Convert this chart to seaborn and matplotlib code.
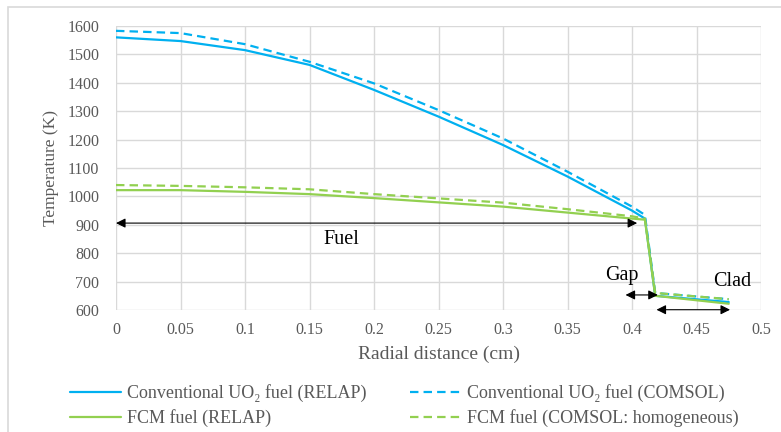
import matplotlib
matplotlib.use("Agg")
import matplotlib.pyplot as plt
import seaborn as sns
import pandas as pd
from matplotlib.patches import Rectangle

# ---- data ----
r_uo2_relap = [0, 0.05, 0.1, 0.15, 0.2, 0.25, 0.3, 0.35, 0.4, 0.41, 0.418, 0.475]
T_uo2_relap = [1560, 1547, 1515, 1463, 1375, 1281, 1181, 1070, 950, 922, 650, 628]
r_uo2_comsol = [0, 0.05, 0.1, 0.15, 0.2, 0.25, 0.3, 0.35, 0.4, 0.41, 0.418, 0.475]
T_uo2_comsol = [1583, 1575, 1536, 1474, 1398, 1304, 1204, 1087, 964, 935, 660, 638]
r_fcm_relap = [0, 0.05, 0.1, 0.15, 0.2, 0.25, 0.3, 0.35, 0.4, 0.41, 0.418, 0.475]
T_fcm_relap = [1022, 1022, 1016, 1008, 994, 979, 964, 943, 922, 918, 650, 622]
r_fcm_comsol = [0, 0.05, 0.1, 0.15, 0.2, 0.25, 0.3, 0.35, 0.4, 0.41, 0.418, 0.475]
T_fcm_comsol = [1040, 1037, 1032, 1025, 1008, 993, 978, 955, 930, 922, 660, 638]

labels = ["Conventional UO\u2082 fuel (RELAP)", "Conventional UO\u2082 fuel (COMSOL)",
          "FCM fuel (RELAP)", "FCM fuel (COMSOL: homogeneous)"]
x_ticks = [0, 0.05, 0.1, 0.15, 0.2, 0.25, 0.3, 0.35, 0.4, 0.45, 0.5]
x_tick_labels = ["0", "0.05", "0.1", "0.15", "0.2", "0.25", "0.3", "0.35", "0.4", "0.45", "0.5"]
y_ticks = [600, 700, 800, 900, 1000, 1100, 1200, 1300, 1400, 1500, 1600]

sns.set_theme(style="white")
plt.rcParams['font.family'] = ['Liberation Serif', 'DejaVu Serif']

blue = "#00B0F0"
green = "#92D050"
gray = "#595959"

fig = plt.figure(figsize=(7.81, 4.32), dpi=100)
ax = fig.add_axes([116/781, 1 - 310/432, (761 - 116)/781, (310 - 26)/432])

series = [
    (r_uo2_relap, T_uo2_relap, blue, "-"),
    (r_uo2_comsol, T_uo2_comsol, blue, "--"),
    (r_fcm_relap, T_fcm_relap, green, "-"),
    (r_fcm_comsol, T_fcm_comsol, green, "--"),
]
handles = []
for (xs, ys, c, ls), lab in zip(series, labels):
    df = pd.DataFrame({"r": xs, "T": ys})
    sns.lineplot(data=df, x="r", y="T", ax=ax, color=c, lw=1.6, label=lab,
                 sort=False, estimator=None)
    line = ax.lines[-1]
    if ls == "--":
        line.set_dashes((3.8, 2.3))
    handles.append(line)
ax.get_legend().remove()

ax.set_xlim(0, 0.5)
ax.set_ylim(600, 1600)
ax.set_xticks(x_ticks)
ax.set_xticklabels(x_tick_labels)
ax.set_yticks(y_ticks)
ax.grid(True, color="#d9d9d9", lw=1.0)
ax.set_axisbelow(True)
for s in ax.spines.values():
    s.set_visible(False)
ax.tick_params(axis="both", length=0, labelsize=11.5, labelcolor=gray)
ax.tick_params(axis="x", pad=9)
ax.tick_params(axis="y", pad=12)
ax.set_xlabel("Radial distance (cm)", fontsize=14, color=gray, labelpad=5)
ax.set_ylabel("Temperature (K)", fontsize=12.5, color=gray, labelpad=6)

# annotations
ap = dict(arrowstyle="<|-|>", color="black", lw=0.8, mutation_scale=14, shrinkA=0, shrinkB=0)
ax.annotate("", xy=(0.0, 906), xytext=(0.404, 906), arrowprops=ap)
ax.text(0.175, 848, "Fuel", fontsize=14.5, color="black", ha="center", va="center")
ax.annotate("", xy=(0.395, 653), xytext=(0.42, 653), arrowprops=ap)
ax.text(0.392, 722, "Gap", fontsize=14.5, color="black", ha="center", va="center")
ax.annotate("", xy=(0.419, 601), xytext=(0.476, 601), arrowprops=ap, annotation_clip=False)
ax.text(0.478, 700, "Clad", fontsize=14.5, color="black", ha="center", va="center")

order = [0, 2, 1, 3]
leg = fig.legend(handles=[handles[i] for i in order], labels=[labels[i] for i in order],
                 ncol=2, loc="upper left",
                 bbox_to_anchor=(70/781, 1 - 384/432), frameon=False,
                 fontsize=13, handlelength=2.83, handletextpad=0.3,
                 columnspacing=2.45, labelspacing=0.42, labelcolor=gray,
                 borderpad=0, borderaxespad=0)

# figure border (chart area outline)
fig.patches.append(Rectangle((8/781, -0.05), 1.2, 1 - 7/432 + 0.05,
                             transform=fig.transFigure, fill=False,
                             edgecolor="#d9d9d9", lw=1.2))

fig.savefig("out.png", dpi=100)
